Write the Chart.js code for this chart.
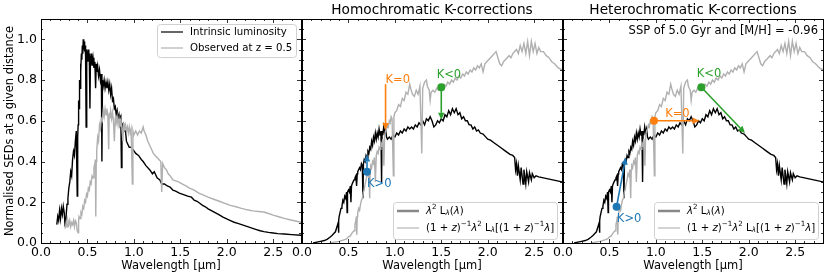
<!DOCTYPE html>
<html>
<head>
<meta charset="utf-8">
<script src="https://cdn.jsdelivr.net/npm/chart.js@4.4.0/dist/chart.umd.min.js"></script>
<style>
  html, body { margin: 0; padding: 0; background: #fff; }
  #wrap { position: relative; width: 830px; height: 277px; }
  canvas { position: absolute; left: 0; top: 0; }
</style>
</head>
<body>
<div id="wrap">
  <canvas id="c1" width="830" height="277"></canvas>
  <canvas id="c2" width="830" height="277"></canvas>
  <canvas id="c3" width="830" height="277"></canvas>
</div>
<script>
// panel 1 : intrinsic luminosity (black) and observed at z = 0.5 (grey)
const intrinsic = [
  [0.17,0.09],[0.18,0.13],[0.19,0.11],[0.20,0.16],[0.21,0.12],[0.22,0.17],[0.23,0.14],[0.24,0.18],[0.25,0.15],[0.26,0.08],
  [0.27,0.13],[0.28,0.19],[0.29,0.22],[0.30,0.27],[0.31,0.30],[0.32,0.35],[0.33,0.33],[0.34,0.41],[0.35,0.45],[0.36,0.43],
  [0.37,0.50],[0.38,0.55],[0.39,0.23],[0.395,0.52],[0.40,0.58],[0.405,0.70],[0.41,0.66],[0.415,0.80],[0.42,0.76],[0.425,0.88],
  [0.43,0.84],[0.435,0.93],[0.44,0.90],[0.445,0.97],[0.45,0.93],[0.455,1.00],[0.46,0.95],[0.465,0.99],[0.47,0.94],[0.475,0.97],
  [0.48,0.92],[0.486,0.57],[0.49,0.95],[0.495,0.90],[0.50,0.94],[0.505,0.89],[0.51,0.95],[0.515,0.90],[0.52,0.93],[0.527,0.66],
  [0.533,0.92],[0.54,0.88],[0.545,0.93],[0.55,0.87],[0.56,0.91],[0.57,0.86],[0.58,0.89],[0.588,0.76],[0.595,0.88],[0.60,0.84],
  [0.61,0.87],[0.62,0.82],[0.63,0.85],[0.64,0.80],[0.65,0.83],[0.656,0.40],[0.662,0.80],[0.67,0.77],[0.68,0.80],[0.69,0.76],
  [0.70,0.79],[0.71,0.76],[0.72,0.79],[0.73,0.75],[0.74,0.78],[0.75,0.73],[0.76,0.76],[0.77,0.70],[0.78,0.71],[0.79,0.66],
  [0.80,0.67],[0.81,0.63],[0.82,0.65],[0.83,0.61],[0.84,0.63],[0.85,0.59],[0.86,0.61],[0.866,0.37],[0.872,0.59],[0.88,0.56],
  [0.89,0.58],[0.90,0.55],[0.91,0.55],[0.92,0.50],[0.93,0.49],[0.95,0.47],[0.97,0.47],[0.99,0.46],[1.02,0.44],[1.05,0.43],
  [1.08,0.41],[1.10,0.40],[1.13,0.38],[1.17,0.36],[1.20,0.34],[1.22,0.35],[1.25,0.32],[1.28,0.31],[1.30,0.29],[1.33,0.29],
  [1.36,0.28],[1.39,0.275],[1.42,0.26],[1.45,0.255],[1.49,0.245],[1.52,0.24],[1.55,0.235],[1.58,0.23],[1.62,0.225],[1.65,0.21],
  [1.68,0.205],[1.71,0.195],[1.74,0.185],[1.77,0.178],[1.80,0.168],[1.84,0.158],[1.88,0.148],[1.92,0.138],[1.96,0.127],[2.00,0.118],
  [2.04,0.110],[2.08,0.102],[2.12,0.096],[2.16,0.090],[2.20,0.084],[2.24,0.078],[2.28,0.072],[2.32,0.066],[2.36,0.060],[2.40,0.056],
  [2.45,0.052],[2.50,0.049],[2.55,0.046],[2.62,0.044],[2.70,0.041],[2.80,0.038]
];
const observed = [
  [0.26,0.07],[0.27,0.10],[0.28,0.08],[0.29,0.11],[0.30,0.09],[0.31,0.11],[0.32,0.08],[0.33,0.10],[0.34,0.09],[0.35,0.11],
  [0.36,0.08],[0.37,0.11],[0.38,0.10],[0.39,0.06],[0.40,0.05],[0.405,0.11],[0.41,0.13],[0.42,0.12],[0.43,0.15],[0.44,0.14],
  [0.45,0.18],[0.46,0.17],[0.47,0.21],[0.48,0.20],[0.49,0.24],[0.50,0.23],[0.51,0.27],[0.52,0.26],[0.53,0.30],[0.54,0.29],
  [0.55,0.33],[0.56,0.32],[0.57,0.37],[0.58,0.39],[0.585,0.41],[0.59,0.13],[0.595,0.40],[0.60,0.45],[0.61,0.52],[0.62,0.50],
  [0.63,0.58],[0.64,0.56],[0.65,0.61],[0.66,0.60],[0.67,0.65],[0.68,0.62],[0.69,0.66],[0.70,0.63],[0.71,0.66],[0.72,0.62],
  [0.729,0.46],[0.735,0.64],[0.74,0.61],[0.75,0.65],[0.76,0.61],[0.77,0.64],[0.78,0.60],[0.79,0.50],[0.80,0.62],[0.81,0.59],
  [0.82,0.62],[0.83,0.58],[0.84,0.61],[0.85,0.57],[0.86,0.60],[0.87,0.57],[0.882,0.50],[0.89,0.59],[0.90,0.56],[0.91,0.58],
  [0.92,0.55],[0.93,0.57],[0.94,0.54],[0.95,0.57],[0.96,0.54],[0.97,0.56],[0.984,0.29],[0.99,0.55],[1.00,0.53],[1.02,0.55],
  [1.04,0.53],[1.06,0.55],[1.08,0.54],[1.10,0.57],[1.11,0.55],[1.13,0.53],[1.15,0.50],[1.17,0.48],[1.19,0.46],[1.21,0.44],
  [1.23,0.43],[1.25,0.42],[1.27,0.41],[1.29,0.40],[1.30,0.25],[1.31,0.39],[1.33,0.37],[1.35,0.36],[1.37,0.34],[1.39,0.33],
  [1.42,0.31],[1.45,0.305],[1.48,0.30],[1.52,0.29],[1.56,0.28],[1.60,0.27],[1.65,0.26],[1.70,0.245],[1.75,0.235],[1.80,0.225],
  [1.86,0.215],[1.92,0.205],[1.98,0.195],[2.04,0.185],[2.10,0.178],[2.16,0.170],[2.22,0.163],[2.28,0.158],[2.34,0.155],[2.40,0.152],
  [2.45,0.145],[2.50,0.137],[2.56,0.129],[2.62,0.121],[2.68,0.114],[2.74,0.108],[2.80,0.102]
];

// panels 2 and 3 : lambda^2 L(lambda) (black) and redshifted version (grey)
const lam2Rest = [
  [0.12,0.0],[0.16,0.004],[0.20,0.008],[0.24,0.012],[0.27,0.018],[0.30,0.028],[0.32,0.036],[0.34,0.045],[0.36,0.055],[0.37,0.07],
  [0.38,0.085],[0.39,0.10],[0.393,0.05],[0.397,0.11],[0.40,0.13],[0.41,0.15],[0.42,0.17],[0.43,0.18],[0.44,0.21],[0.45,0.20],
  [0.46,0.23],[0.47,0.22],[0.48,0.25],[0.486,0.15],[0.49,0.25],[0.50,0.26],[0.51,0.25],[0.52,0.28],[0.527,0.20],[0.533,0.28],
  [0.54,0.29],[0.55,0.30],[0.56,0.31],[0.57,0.32],[0.58,0.33],[0.588,0.28],[0.595,0.34],[0.60,0.35],[0.62,0.37],[0.63,0.36],
  [0.64,0.39],[0.65,0.38],[0.656,0.22],[0.662,0.39],[0.67,0.41],[0.68,0.40],[0.69,0.43],[0.70,0.42],[0.71,0.45],[0.72,0.44],
  [0.73,0.47],[0.74,0.46],[0.75,0.50],[0.76,0.48],[0.77,0.52],[0.78,0.50],[0.79,0.54],[0.80,0.51],[0.81,0.54],[0.82,0.52],
  [0.83,0.56],[0.84,0.53],[0.85,0.55],[0.857,0.30],[0.863,0.55],[0.87,0.53],[0.88,0.57],[0.89,0.54],[0.90,0.56],[0.91,0.52],
  [0.92,0.51],[0.94,0.52],[0.96,0.51],[0.98,0.53],[1.00,0.52],[1.02,0.54],[1.04,0.53],[1.06,0.55],[1.08,0.54],[1.10,0.56],
  [1.12,0.55],[1.14,0.57],[1.16,0.56],[1.18,0.57],[1.20,0.56],[1.22,0.58],[1.24,0.57],[1.26,0.59],[1.28,0.58],[1.30,0.60],
  [1.32,0.58],[1.34,0.61],[1.36,0.60],[1.38,0.62],[1.40,0.60],[1.42,0.57],[1.44,0.58],[1.46,0.60],[1.48,0.59],[1.50,0.61],
  [1.52,0.60],[1.54,0.63],[1.56,0.62],[1.58,0.65],[1.60,0.63],[1.62,0.66],[1.64,0.64],[1.66,0.66],[1.68,0.63],[1.70,0.64],
  [1.72,0.61],[1.74,0.62],[1.76,0.60],[1.78,0.60],[1.80,0.58],[1.82,0.58],[1.84,0.56],[1.86,0.57],[1.88,0.55],[1.90,0.555],
  [1.92,0.54],[1.95,0.535],[1.98,0.52],[2.00,0.51],[2.03,0.505],[2.06,0.495],[2.09,0.485],[2.12,0.475],[2.15,0.465],[2.18,0.455],
  [2.21,0.445],[2.24,0.435],[2.27,0.43],[2.29,0.42],[2.30,0.36],[2.31,0.39],[2.32,0.33],[2.33,0.38],[2.35,0.31],[2.36,0.37],
  [2.38,0.29],[2.39,0.36],[2.41,0.29],[2.42,0.35],[2.44,0.30],[2.45,0.345],[2.47,0.31],[2.48,0.34],[2.50,0.32],[2.52,0.33],
  [2.55,0.325],[2.60,0.32],[2.65,0.315],[2.70,0.31],[2.75,0.305],[2.80,0.30]
];
const lam2Shifted = [
  [0.30,0.0],[0.35,0.004],[0.40,0.008],[0.45,0.015],[0.48,0.02],[0.50,0.03],[0.52,0.035],[0.54,0.05],[0.56,0.06],[0.57,0.09],
  [0.58,0.11],[0.585,0.13],[0.59,0.04],[0.595,0.13],[0.60,0.15],[0.61,0.17],[0.62,0.16],[0.63,0.19],[0.64,0.21],[0.65,0.22],
  [0.66,0.25],[0.67,0.26],[0.68,0.29],[0.69,0.31],[0.70,0.34],[0.71,0.33],[0.72,0.36],[0.729,0.22],[0.735,0.36],[0.74,0.38],
  [0.75,0.37],[0.76,0.40],[0.77,0.39],[0.78,0.42],[0.79,0.30],[0.80,0.43],[0.81,0.45],[0.82,0.44],[0.83,0.47],[0.84,0.46],
  [0.85,0.49],[0.86,0.48],[0.87,0.51],[0.882,0.38],[0.89,0.53],[0.90,0.55],[0.91,0.56],[0.92,0.58],[0.93,0.57],[0.94,0.60],
  [0.95,0.59],[0.96,0.62],[0.97,0.61],[0.984,0.33],[0.99,0.62],[1.00,0.64],[1.02,0.65],[1.04,0.68],[1.06,0.67],[1.08,0.71],
  [1.10,0.70],[1.12,0.74],[1.14,0.73],[1.16,0.78],[1.17,0.76],[1.19,0.73],[1.21,0.72],[1.23,0.75],[1.25,0.73],[1.27,0.77],
  [1.29,0.44],[1.30,0.76],[1.32,0.79],[1.34,0.80],[1.35,0.77],[1.37,0.75],[1.38,0.70],[1.39,0.74],[1.41,0.75],[1.43,0.74],
  [1.45,0.76],[1.47,0.75],[1.49,0.77],[1.51,0.76],[1.53,0.78],[1.55,0.77],[1.57,0.79],[1.59,0.78],[1.61,0.80],[1.63,0.79],
  [1.65,0.81],[1.67,0.80],[1.69,0.82],[1.71,0.81],[1.73,0.83],[1.75,0.82],[1.77,0.84],[1.79,0.83],[1.81,0.85],[1.83,0.84],
  [1.85,0.86],[1.87,0.85],[1.89,0.87],[1.91,0.86],[1.93,0.88],[1.95,0.84],[1.97,0.88],[1.99,0.89],[2.01,0.90],[2.03,0.91],
  [2.05,0.92],[2.07,0.93],[2.09,0.94],[2.11,0.91],[2.13,0.88],[2.15,0.87],[2.17,0.89],[2.19,0.90],[2.21,0.91],[2.23,0.92],
  [2.25,0.91],[2.27,0.93],[2.29,0.94],[2.31,0.95],[2.33,0.93],[2.35,0.97],[2.37,0.94],[2.39,0.98],[2.41,0.93],[2.43,0.99],
  [2.45,0.92],[2.47,0.99],[2.49,0.94],[2.51,0.98],[2.53,0.93],[2.55,0.96],[2.57,0.94],[2.60,0.94],[2.63,0.92],[2.66,0.91],
  [2.69,0.89],[2.72,0.88],[2.76,0.86],[2.80,0.85]
];

// tick labels
const xTicks = [0, 0.5, 1.0, 1.5, 2.0, 2.5];
const yTicks = [0, 0.2, 0.4, 0.6, 0.8, 1.0];

// K-correction annotations: [from, to] in data units
const homoArrows = [[[0.70,0.35],[0.70,0.435]], [[0.90,0.78],[0.90,0.555]], [[1.50,0.765],[1.50,0.605]]];
const homoDots = [[0.70,0.35],[1.50,0.765]];
const homoLabels = [['K>0',0.70,0.29],['K=0',0.90,0.80],['K<0',1.45,0.825]];
const heteroArrows = [[[0.577,0.178],[0.676,0.42]], [[0.98,0.60],[1.47,0.60]], [[1.49,0.765],[1.96,0.54]]];
const heteroDots = [[0.577,0.178],[0.98,0.60],[1.49,0.765]];
const heteroLabels = [['K>0',0.58,0.12],['K=0',1.10,0.634],['K<0',1.44,0.83]];

const BLUE = '#1f77b4', ORANGE = '#ff7f0e', GREEN = '#2ca02c', GREY = '#b0b0b0';
const FONT = '"DejaVu Sans", sans-serif';
Chart.defaults.font.family = FONT;

const toXY = arr => arr.map(p => ({ x: p[0], y: p[1] }));

function drawRich(ctx, parts, x, y, size) {
  let cx = x;
  for (const [t, s] of parts) {
    let fs = size, dy = 0;
    if (s.includes('sup')) { fs = size * 0.7; dy = -size * 0.35; }
    if (s.includes('sub')) { fs = size * 0.7; dy = size * 0.22; }
    ctx.font = (s.includes('it') ? 'italic ' : '') + fs + 'px ' + FONT;
    ctx.fillText(t, cx, y + dy);
    cx += ctx.measureText(t).width;
  }
}

function arrow(ctx, x0, y0, x1, y1, color) {
  const ang = Math.atan2(y1 - y0, x1 - x0), hl = 7, hw = 3.2;
  const bx = x1 - hl * Math.cos(ang), by = y1 - hl * Math.sin(ang);
  ctx.strokeStyle = color; ctx.lineWidth = 1.6;
  ctx.beginPath(); ctx.moveTo(x0, y0); ctx.lineTo(bx, by); ctx.stroke();
  ctx.fillStyle = color;
  ctx.beginPath(); ctx.moveTo(x1, y1);
  ctx.lineTo(bx + hw * Math.sin(ang), by - hw * Math.cos(ang));
  ctx.lineTo(bx - hw * Math.sin(ang), by + hw * Math.cos(ang));
  ctx.closePath(); ctx.fill();
}

function roundBox(ctx, x, y, w, h) {
  const r = 3;
  ctx.beginPath();
  ctx.moveTo(x + r, y); ctx.lineTo(x + w - r, y); ctx.quadraticCurveTo(x + w, y, x + w, y + r);
  ctx.lineTo(x + w, y + h - r); ctx.quadraticCurveTo(x + w, y + h, x + w - r, y + h);
  ctx.lineTo(x + r, y + h); ctx.quadraticCurveTo(x, y + h, x, y + h - r);
  ctx.lineTo(x, y + r); ctx.quadraticCurveTo(x, y, x + r, y);
  ctx.closePath();
  ctx.fillStyle = 'rgba(255,255,255,0.85)'; ctx.fill();
  ctx.strokeStyle = '#d0d0d0'; ctx.lineWidth = 1; ctx.stroke();
}

const legendSED = [
  { color: '#000', width: 1.2, parts: [['Intrinsic luminosity', '']] },
  { color: GREY, width: 1.2, parts: [['Observed at z = 0.5', '']] }
];
const legendK = [
  { color: '#888888', width: 2.5, parts: [['λ','it'],['2','sup'],[' L',''],['λ','sub it'],['(',''],['λ','it'],[')','']] },
  { color: '#c4c4c4', width: 1.5, parts: [['(1 + ',''],['z','it'],[')',''],['−1','sup'],['λ','it'],['2','sup'],[' L',''],['λ','sub it'],['[(1 + ',''],['z','it'],[')',''],['−1','sup'],['λ','it'],[']','']] }
];

const colors3 = [BLUE, ORANGE, GREEN];

function panelPlugin(cfg) {
  return {
    id: 'panelDecor',
    afterDatasetsDraw(chart) {
      const { ctx, chartArea: a, scales: { x, y } } = chart;
      ctx.save();
      // frame
      ctx.strokeStyle = '#000'; ctx.lineWidth = 1;
      ctx.strokeRect(Math.round(a.left) + 0.5, Math.round(a.top) + 0.5, Math.round(a.right - a.left), Math.round(a.bottom - a.top));
      // inward ticks on all sides
      ctx.lineWidth = 0.8;
      ctx.beginPath();
      for (let i = 0; i <= 28; i++) {
        const v = i / 10, px = Math.round(x.getPixelForValue(v)) + 0.5, len = i % 5 === 0 ? 4 : 2;
        ctx.moveTo(px, a.bottom); ctx.lineTo(px, a.bottom - len);
        ctx.moveTo(px, a.top); ctx.lineTo(px, a.top + len);
      }
      for (let i = 0; i <= 22; i++) {
        const v = i / 20, py = Math.round(y.getPixelForValue(v)) + 0.5, len = i % 4 === 0 ? 4 : 2;
        ctx.moveTo(a.left, py); ctx.lineTo(a.left + len, py);
        ctx.moveTo(a.right, py); ctx.lineTo(a.right - len, py);
      }
      ctx.stroke();

      // arrows
      (cfg.arrows || []).forEach((ar, i) => {
        arrow(ctx, x.getPixelForValue(ar[0][0]), y.getPixelForValue(ar[0][1]),
          x.getPixelForValue(ar[1][0]), y.getPixelForValue(ar[1][1]), colors3[i]);
      });
      // labels
      ctx.textBaseline = 'middle'; ctx.textAlign = 'left';
      ctx.font = '11.5px ' + FONT;
      (cfg.labels || []).forEach((lb, i) => {
        ctx.fillStyle = colors3[i];
        ctx.fillText(lb[0], x.getPixelForValue(lb[1]), y.getPixelForValue(lb[2]));
      });

      // titles
      ctx.fillStyle = '#000';
      ctx.textAlign = 'center';
      ctx.font = '11.5px ' + FONT;
      ctx.fillText('Wavelength [μm]', (a.left + a.right) / 2, 266);
      if (cfg.title) {
        ctx.font = '13.7px ' + FONT;
        ctx.fillText(cfg.title, (a.left + a.right) / 2, 10);
      }
      if (cfg.ylabel) {
        ctx.save();
        ctx.translate(10, (a.top + a.bottom) / 2);
        ctx.rotate(-Math.PI / 2);
        ctx.font = '11.4px ' + FONT;
        ctx.fillText(cfg.ylabel, 0, 0);
        ctx.restore();
      }
      if (cfg.note) {
        ctx.textAlign = 'right';
        ctx.font = '11.5px ' + FONT;
        ctx.fillText(cfg.note, a.right - 5, a.top + 12);
      }

      // legend
      if (cfg.legend) {
        const L = cfg.legend;
        const bx = a.right - 5 - L.w, by = L.atTop ? a.top + 5 : a.bottom - 4 - L.h;
        roundBox(ctx, bx + 0.5, by + 0.5, L.w, L.h);
        ctx.textAlign = 'left'; ctx.textBaseline = 'middle';
        L.items.forEach((it, i) => {
          const ly = by + L.row0 + i * L.dy;
          ctx.strokeStyle = it.color; ctx.lineWidth = it.width;
          ctx.beginPath(); ctx.moveTo(bx + 4, ly); ctx.lineTo(bx + 26, ly); ctx.stroke();
          ctx.fillStyle = '#000';
          drawRich(ctx, it.parts, bx + 33, ly, 10.2);
        });
      }
      ctx.restore();
    }
  };
}

const panelLeft = [41, 302, 563];
const panelWidth = 260;

function makePanel(id, idx, datasets, cfg) {
  const left = panelLeft[idx];
  return new Chart(document.getElementById(id), {
    type: 'scatter',
    data: { datasets },
    options: {
      responsive: false, animation: false, devicePixelRatio: 1,
      layout: { padding: { left: 0, right: 830 - left - panelWidth, top: 19, bottom: 0 } },
      plugins: { legend: { display: false }, tooltip: { enabled: false } },
      scales: {
        x: {
          type: 'linear', min: 0, max: 2.8,
          grid: { display: false, drawTicks: false }, border: { display: false },
          afterBuildTicks: s => { s.ticks = xTicks.map(v => ({ value: v })); },
          afterFit: s => { s.height = 34; },
          ticks: { color: '#000', font: { size: 12.5 }, padding: 2, maxRotation: 0, autoSkip: false,
            callback: v => v.toFixed(1) }
        },
        y: {
          type: 'linear', min: 0, max: 1.1,
          grid: { display: false, drawTicks: false }, border: { display: false },
          afterBuildTicks: s => { s.ticks = yTicks.map(v => ({ value: v })); },
          afterFit: s => { s.width = left; },
          ticks: { display: idx === 0, color: '#000', font: { size: 12.5 }, padding: 4, autoSkip: false,
            callback: v => v.toFixed(1) }
        }
      }
    },
    plugins: [panelPlugin(cfg)]
  });
}

const lineDs = (data, color, w) => ({
  data: toXY(data), showLine: true, borderColor: color, borderWidth: w,
  pointRadius: 0, tension: 0, fill: false
});
const dotDs = (pts, cols) => ({
  data: toXY(pts), showLine: false, pointRadius: 4, pointBorderWidth: 0,
  pointBackgroundColor: cols, pointBorderColor: cols
});

makePanel('c1', 0, [lineDs(observed, GREY, 1.4), lineDs(intrinsic, '#000', 1.4)], {
  ylabel: 'Normalised SEDs at a given distance',
  legend: { items: legendSED, w: 139, h: 33, atTop: true, row0: 8, dy: 16 }
});
makePanel('c2', 1, [dotDs(homoDots, [BLUE, GREEN]), lineDs(lam2Shifted, GREY, 1.4), lineDs(lam2Rest, '#000', 1.4)], {
  title: 'Homochromatic K-corrections',
  arrows: homoArrows, labels: homoLabels,
  legend: { items: legendK, w: 164, h: 37, atTop: false, row0: 9, dy: 17 }
});
makePanel('c3', 2, [dotDs(heteroDots, colors3), lineDs(lam2Shifted, GREY, 1.4), lineDs(lam2Rest, '#000', 1.4)], {
  title: 'Heterochromatic K-corrections',
  note: 'SSP of 5.0 Gyr and [M/H] = -0.96',
  arrows: heteroArrows, labels: heteroLabels,
  legend: { items: legendK, w: 164, h: 37, atTop: false, row0: 9, dy: 17 }
});
</script>
</body>
</html>
